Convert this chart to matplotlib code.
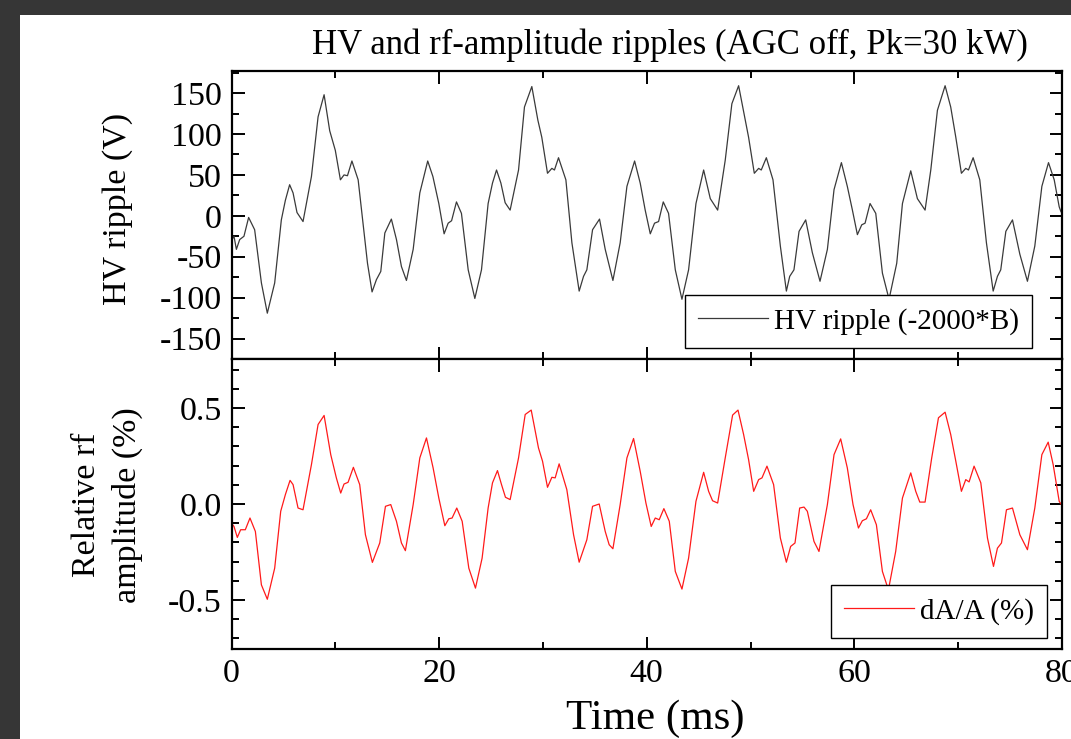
import matplotlib
matplotlib.use("Agg")
import matplotlib.pyplot as plt
from matplotlib.patches import Rectangle
from matplotlib.ticker import MultipleLocator, FormatStrFormatter

plt.rcParams['font.family'] = 'serif'
plt.rcParams['font.serif'] = ['Liberation Serif', 'DejaVu Serif']
plt.rcParams['axes.unicode_minus'] = False

# HV ripple (-2000*B)
hv_time = [0.0, 0.24, 0.47, 0.79, 1.2, 1.65, 2.23, 2.88, 3.45, 4.16, 4.8, 5.19, 5.6, 5.93, 6.31, 6.89,
           7.7, 8.34, 8.92, 9.46, 10.0, 10.49, 10.84, 11.17, 11.6, 12.2, 12.67, 13.1, 13.54, 13.96,
           14.38, 14.77, 15.4, 15.89, 16.37, 16.85, 17.5, 18.14, 18.9, 19.4, 19.97, 20.48, 20.87,
           21.2, 21.67, 22.15, 22.8, 23.44, 24.08, 24.72, 25.14, 25.53, 25.95, 26.36, 26.84, 27.65,
           28.22, 28.93, 29.51, 29.89, 30.44, 30.86, 31.11, 31.5, 32.21, 32.79, 33.49, 33.91, 34.23,
           34.78, 35.45, 36.0, 36.74, 37.44, 38.09, 38.83, 39.37, 39.85, 40.34, 40.75, 41.14, 41.59,
           42.1, 42.75, 43.39, 44.03, 44.74, 45.48, 46.12, 46.83, 47.56, 48.2, 48.85, 49.49, 49.81,
           50.36, 50.78, 51.03, 51.52, 52.16, 52.87, 53.45, 53.77, 54.18, 54.67, 55.31, 55.95, 56.69,
           57.4, 58.04, 58.75, 59.32, 59.81, 60.29, 60.71, 61.03, 61.51, 62.06, 62.7, 63.34, 64.08,
           64.63, 65.43, 66.07, 66.81, 67.36, 68.0, 68.74, 69.28, 69.77, 70.31, 70.73, 70.99, 71.44,
           72.08, 72.72, 73.37, 73.78, 74.1, 74.59, 75.23, 75.94, 76.67, 77.38, 78.06, 78.7, 79.25,
           79.73, 79.9]
hv_ripple = [-30, -25, -41, -29, -25, -2, -17, -82, -119, -82, -5, 19, 38, 28, 4, -7,
             48, 121, 148, 104, 80, 44, 50, 49, 67, 44, -9, -58, -93, -78,
             -68, -21, -4, -29, -62, -79, -41, 28, 67, 48, 15, -22, -9,
             -6, 17, 3, -66, -101, -66, 15, 40, 56, 40, 16, 7, 56,
             133, 158, 117, 96, 52, 58, 56, 71, 44, -33, -92, -74, -66,
             -17, -4, -41, -79, -33, 36, 67, 40, 7, -22, -9, -7, 17,
             3, -66, -102, -66, 15, 56, 21, 7, 68, 137, 159, 117, 96,
             52, 58, 56, 71, 44, -37, -92, -74, -66, -19, -5, -45, -80,
             -41, 32, 65, 36, 7, -23, -11, -9, 15, 3, -70, -102, -58,
             15, 55, 21, 7, 56, 129, 159, 133, 96, 52, 58, 56, 71,
             44, -33, -92, -74, -66, -19, -5, -47, -80, -37, 36, 65, 44,
             11, 5]

# relative rf amplitude dA/A (%)
rf_time = [0.0, 0.24, 0.56, 0.88, 1.33, 1.78, 2.3, 2.88, 3.45, 4.16, 4.74, 5.19, 5.64, 5.93, 6.41,
           6.89, 7.7, 8.34, 8.92, 9.56, 10.1, 10.52, 10.84, 11.23, 11.74, 12.35, 12.9, 13.57, 14.28,
           14.83, 15.34, 15.89, 16.37, 16.75, 17.5, 18.14, 18.78, 19.42, 19.97, 20.55, 20.93, 21.25,
           21.7, 22.22, 22.86, 23.5, 24.14, 24.72, 25.14, 25.62, 26.01, 26.39, 26.84, 27.65, 28.29,
           28.87, 29.57, 29.96, 30.44, 30.86, 31.18, 31.56, 32.3, 32.95, 33.49, 34.23, 34.78, 35.42,
           36.0, 36.38, 36.74, 37.44, 38.09, 38.73, 39.37, 39.92, 40.43, 40.82, 41.2, 41.65, 42.17,
           42.75, 43.39, 44.03, 44.74, 45.48, 45.96, 46.34, 46.83, 47.56, 48.27, 48.79, 49.33, 49.81,
           50.3, 50.78, 51.1, 51.58, 52.22, 52.87, 53.45, 53.86, 54.28, 54.73, 55.15, 55.47, 56.11,
           56.59, 57.4, 58.04, 58.68, 59.32, 59.87, 60.39, 60.77, 61.16, 61.57, 62.12, 62.7, 63.28,
           63.98, 64.63, 65.43, 65.91, 66.3, 66.81, 67.45, 68.1, 68.74, 69.28, 69.77, 70.31, 70.73,
           71.05, 71.53, 72.18, 72.82, 73.4, 73.78, 74.17, 74.65, 75.23, 75.94, 76.67, 77.38, 78.06,
           78.67, 79.15, 79.73, 79.9]
rf_amp = [-0.10, -0.117, -0.174, -0.134, -0.134, -0.073, -0.143, -0.421, -0.496, -0.334, -0.038,
          0.049, 0.123, 0.101, -0.021, -0.03, 0.205, 0.414, 0.461, 0.257, 0.136, 0.057, 0.104,
          0.113, 0.191, 0.101, -0.16, -0.304, -0.203, -0.012, -0.003, -0.09, -0.203, -0.243,
          -0.003, 0.24, 0.344, 0.188, 0.031, -0.113, -0.077, -0.073, -0.021, -0.09, -0.334,
          -0.438, -0.282, -0.021, 0.11, 0.174, 0.101, 0.035, 0.023, 0.24, 0.466, 0.489, 0.292,
          0.223, 0.087, 0.139, 0.136, 0.209, 0.075, -0.16, -0.303, -0.186, -0.012, 0.0, -0.143,
          -0.212, -0.233, -0.003, 0.24, 0.341, 0.17, 0.005, -0.117, -0.073, -0.082, -0.024, -0.09,
          -0.351, -0.443, -0.282, 0.014, 0.165, 0.066, 0.017, 0.005, 0.24, 0.463, 0.489, 0.362,
          0.231, 0.066, 0.127, 0.136, 0.197, 0.101, -0.177, -0.303, -0.221, -0.203, -0.021,
          -0.016, -0.038, -0.195, -0.247, -0.003, 0.257, 0.339, 0.188, -0.003, -0.125, -0.087,
          -0.077, -0.03, -0.108, -0.351, -0.447, -0.247, 0.031, 0.162, 0.066, 0.01, 0.01, 0.24,
          0.449, 0.478, 0.362, 0.223, 0.066, 0.127, 0.115, 0.197, 0.11, -0.177, -0.325, -0.23,
          -0.203, -0.03, -0.021, -0.16, -0.238, -0.021, 0.257, 0.322, 0.205, 0.014, 0.0]

W, H = 1071, 739
fig = plt.figure(figsize=(W / 100, H / 100), dpi=100)
fig.patch.set_facecolor('#363636')
fig.patches.append(Rectangle((20 / W, 0), 1, 1 - 15 / H, transform=fig.transFigure,
                             facecolor='white', edgecolor='none', zorder=-10))

left, right = 231.5 / W, 1062 / W
ax1 = fig.add_axes([left, 1 - 359 / H, right - left, 288 / H])
ax2 = fig.add_axes([left, 1 - 649 / H, right - left, 290 / H], sharex=ax1)

ax1.plot(hv_time, hv_ripple, color='#3a3a3a', lw=0.9, solid_joinstyle='round',
         label='HV ripple (-2000*B)')
ax2.plot(rf_time, rf_amp, color='#ff1a1a', lw=0.9, solid_joinstyle='round', label='dA/A (%)')

ax1.set_xlim(0, 80)
ax1.set_ylim(-175, 177)
ax2.set_ylim(-0.755, 0.755)

ax1.yaxis.set_major_locator(MultipleLocator(50))
ax1.yaxis.set_minor_locator(MultipleLocator(25))
ax2.yaxis.set_major_locator(MultipleLocator(0.5))
ax2.yaxis.set_minor_locator(MultipleLocator(0.1))
ax2.yaxis.set_major_formatter(FormatStrFormatter('%.1f'))
ax2.xaxis.set_major_locator(MultipleLocator(20))
ax2.xaxis.set_minor_locator(MultipleLocator(10))

for ax in (ax1, ax2):
    for s in ax.spines.values():
        s.set_linewidth(1.6)
    ax.tick_params(which='both', direction='in', top=True, right=True, width=1.4,
                   labelsize=24.5)
    ax.tick_params(which='major', length=9)
    ax.tick_params(which='minor', length=5)
    ax.tick_params(axis='y', pad=7)
    ax.tick_params(axis='x', pad=7)

ax1.tick_params(labelbottom=False)

leg_kw = dict(frameon=True, fancybox=False, framealpha=1, edgecolor='black',
              handlelength=2.4, handletextpad=0.2, borderpad=0.45, borderaxespad=0,
              fontsize=21)
l1 = ax1.legend(loc='lower right', bbox_to_anchor=(0.964, 0.038), **leg_kw)
l2 = ax2.legend(loc='lower right', bbox_to_anchor=(0.982, 0.038), **leg_kw)
for lg in (l1, l2):
    lg.get_frame().set_linewidth(1.0)

fig.text(670 / W, 1 - 45 / H, 'HV and rf-amplitude ripples (AGC off, Pk=30 kW)',
         ha='center', va='center', fontsize=25)
fig.text(117.5 / W, 1 - 209 / H, 'HV ripple (V)', rotation=90,
         ha='center', va='center', fontsize=24.5)
fig.text(107 / W, 1 - 505 / H, 'Relative rf\namplitude (%)', rotation=90,
         ha='center', va='center', fontsize=24.5, multialignment='center', linespacing=1.4)
fig.text(655 / W, 1 - 719 / H, 'Time (ms)', ha='center', va='center', fontsize=31)

fig.savefig('out.png', dpi=100, facecolor=fig.get_facecolor())
